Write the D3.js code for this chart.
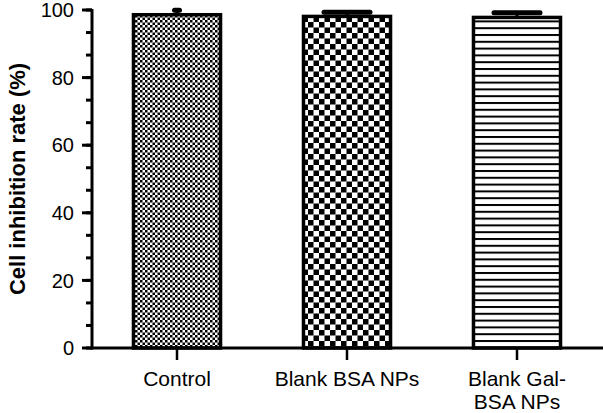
<!DOCTYPE html>
<html><head><meta charset="utf-8">
<script src="https://cdn.jsdelivr.net/npm/d3@7"></script>
<style>body{margin:0;background:#fff}svg{display:block}</style>
</head><body>
<script>
const categories = ["Control", "Blank BSA NPs", "Blank Gal-BSA NPs"];
const labelLines = [["Control"], ["Blank BSA NPs"], ["Blank Gal-", "BSA NPs"]];
const values = [98.6, 98.1, 97.8];
const errors = [1.3, 1.2, 1.4];
const yTicks = [0, 20, 40, 60, 80, 100];
const yMinorTicks = d3.range(0, 100.01, 20/3);
const capWidths = [5, 46, 46];
const patterns = ["fineCheck", "coarseCheck", "hLines"];

const W = 603, H = 413;
const svg = d3.select("body").append("svg").attr("width", W).attr("height", H);
const defs = svg.append("defs");

// fine checker
let p = defs.append("pattern").attr("id","fineCheck").attr("patternUnits","userSpaceOnUse")
  .attr("width",5).attr("height",5).attr("x",0).attr("y",0);
p.append("rect").attr("width",5).attr("height",5).attr("fill","#fff");
p.append("rect").attr("width",2.5).attr("height",2.5).attr("fill","#000");
p.append("rect").attr("x",2.5).attr("y",2.5).attr("width",2.5).attr("height",2.5).attr("fill","#000");
// coarse checker
p = defs.append("pattern").attr("id","coarseCheck").attr("patternUnits","userSpaceOnUse")
  .attr("width",11).attr("height",11);
p.append("rect").attr("width",11).attr("height",11).attr("fill","#fff");
p.append("rect").attr("width",5.5).attr("height",5.5).attr("fill","#000");
p.append("rect").attr("x",5.5).attr("y",5.5).attr("width",5.5).attr("height",5.5).attr("fill","#000");
// horizontal lines
p = defs.append("pattern").attr("id","hLines").attr("patternUnits","userSpaceOnUse")
  .attr("width",10).attr("height",6.8);
p.append("rect").attr("width",10).attr("height",6.8).attr("fill","#fff");
p.append("rect").attr("y",0).attr("width",10).attr("height",2).attr("fill","#000");

const y = d3.scaleLinear().domain([0,100]).range([348, 10]);
const x = d3.scaleBand().domain(categories).range([92, 602]).paddingInner(0.488).paddingOuter(0.244);

// bars
svg.selectAll("rect.bar").data(categories).join("rect")
  .attr("class","bar")
  .attr("x", d => x(d))
  .attr("y", (d,i) => y(values[i]))
  .attr("width", x.bandwidth())
  .attr("height", (d,i) => y(0) - y(values[i]))
  .attr("fill", (d,i) => `url(#${patterns[i]})`)
  .attr("stroke","#000").attr("stroke-width",3.5);

// error bars
categories.forEach((c,i) => {
  const cx = x(c) + x.bandwidth()/2;
  svg.append("line").attr("x1",cx).attr("x2",cx)
    .attr("y1", y(values[i])).attr("y2", y(values[i]+errors[i]))
    .attr("stroke","#000").attr("stroke-width",3);
  svg.append("line").attr("x1",cx-capWidths[i]/2).attr("x2",cx+capWidths[i]/2)
    .attr("y1", y(values[i]+errors[i])).attr("y2", y(values[i]+errors[i]))
    .attr("stroke","#000").attr("stroke-width",5).attr("stroke-linecap","round");
});

// y axis
const gy = svg.append("g").attr("transform","translate(92,0)");
gy.append("line").attr("x1",0).attr("x2",0).attr("y1",y(100)-1).attr("y2",y(0)+1.5)
  .attr("stroke","#000").attr("stroke-width",3);
gy.selectAll("line.minor").data(yMinorTicks).join("line").attr("class","minor")
  .attr("x1",-6).attr("x2",0).attr("y1",d=>y(d)).attr("y2",d=>y(d))
  .attr("stroke","#000").attr("stroke-width",3);
gy.selectAll("line.major").data(yTicks).join("line").attr("class","major")
  .attr("x1",-10).attr("x2",0).attr("y1",d=>y(d)).attr("y2",d=>y(d))
  .attr("stroke","#000").attr("stroke-width",3);
gy.selectAll("text").data(yTicks).join("text")
  .attr("x",-18).attr("y",d=>y(d)).attr("dy","0.36em")
  .attr("text-anchor","end").attr("font-family","Liberation Sans, Arial, sans-serif")
  .attr("font-size",20).text(d=>d);

// x axis
const gx = svg.append("g");
gx.append("line").attr("x1",90.5).attr("x2",603).attr("y1",y(0)).attr("y2",y(0))
  .attr("stroke","#000").attr("stroke-width",3);
gx.selectAll("line.tick").data(categories).join("line").attr("class","tick")
  .attr("x1",d=>x(d)+x.bandwidth()/2).attr("x2",d=>x(d)+x.bandwidth()/2)
  .attr("y1",y(0)).attr("y2",y(0)+12).attr("stroke","#000").attr("stroke-width",2.5);
categories.forEach((c,i) => {
  const t = gx.append("text").attr("text-anchor","middle")
    .attr("font-family","Liberation Sans, Arial, sans-serif").attr("font-size",21);
  labelLines[i].forEach((ln,j) => {
    t.append("tspan").attr("x", x(c)+x.bandwidth()/2).attr("y", 386 + j*23).text(ln);
  });
});

// y title
svg.append("text").attr("transform","translate(25,179) rotate(-90)")
  .attr("text-anchor","middle").attr("font-family","Liberation Sans, Arial, sans-serif")
  .attr("font-weight","bold").attr("font-size",22).text("Cell inhibition rate (%)");
</script>
</body></html>
